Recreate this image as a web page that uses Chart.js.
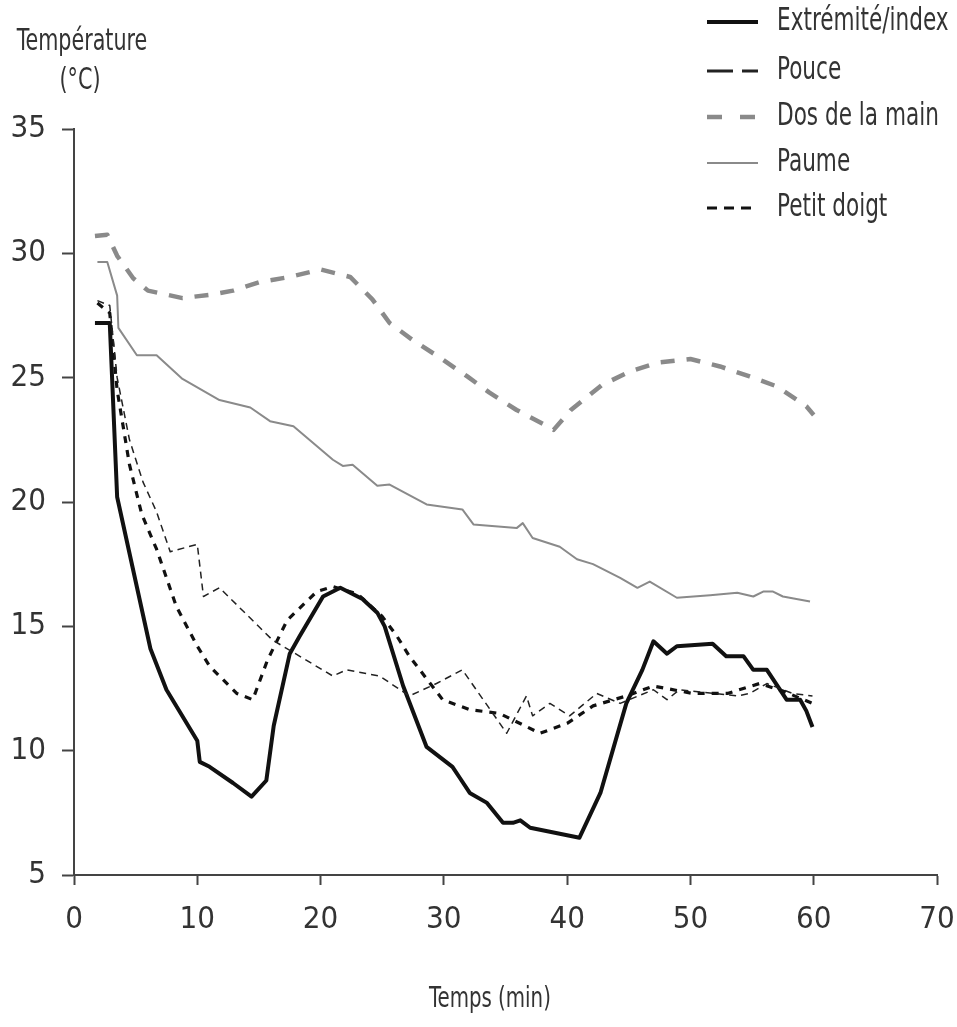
<!DOCTYPE html>
<html>
<head>
<meta charset="utf-8">
<script src="https://cdn.jsdelivr.net/npm/chart.js@4.4.0/dist/chart.umd.min.js"></script>
<style>
  html, body { margin: 0; padding: 0; background: #ffffff; }
  #wrap { width: 957px; height: 1027px; position: relative; }
</style>
</head>
<body>
<div id="wrap"><canvas id="c" width="957" height="1027"></canvas></div>
<script>
// ---- Data (time in min, temperature in °C) ----
const xTicks = [0, 10, 20, 30, 40, 50, 60, 70];
const yTicks = [5, 10, 15, 20, 25, 30, 35];
const seriesNames = ["Extrémité/index", "Pouce", "Dos de la main", "Paume", "Petit doigt"];
const xTitle = "Temps (min)";
const yTitleLines = ["Température", "(°C)"];

const extT = [1.7,2.9,3.5,6.2,7.5,10,10.2,11,12.9,14.4,15.6,16.2,17.5,18.3,20.2,21.6,23.4,24.6,25.2,26.7,28.6,30.7,31.3,32.1,33.5,34.8,35.6,36.2,37,41,42.7,44.8,46.1,47,48.1,48.9,51.8,52.9,54.3,55.1,56.2,57.8,58.9,59.4,59.9];
const extV = [27.2,27.2,20.2,14.1,12.45,10.4,9.55,9.35,8.7,8.15,8.8,11,13.9,14.6,16.2,16.55,16.1,15.55,15,12.6,10.15,9.35,8.9,8.3,7.9,7.1,7.1,7.2,6.9,6.5,8.3,11.9,13.25,14.4,13.9,14.2,14.3,13.8,13.8,13.25,13.25,12.05,12.05,11.6,10.95];

const pouT = [1.9,2.9,3.5,4.5,5.6,6.7,7.8,10,10.5,11.8,16.1,21,22.1,24.8,27.2,29.4,31.5,35.1,36.7,37.2,38.6,40.2,42.4,44.3,47,48.1,49.1,53.8,54.8,56.2,58.3,59.9];
const pouV = [28.1,27.9,25,22.5,20.8,19.6,18,18.3,16.2,16.55,14.45,13,13.25,13,12.2,12.7,13.25,10.7,12.2,11.4,11.9,11.4,12.3,11.9,12.45,12.05,12.45,12.2,12.3,12.7,12.3,12.2];

const dosT = [1.7,2.7,3.5,4.8,6,8.8,11.3,12.9,15.1,17.5,20,22.4,24.2,25.6,27.5,29.7,31.9,33.7,35.9,38.4,38.9,40.3,42.8,45.1,47.3,50,52.4,54.8,57,59.4,60];
const dosV = [30.7,30.75,29.9,29.0,28.5,28.2,28.35,28.5,28.85,29.05,29.35,29.05,28.15,27.2,26.5,25.8,25.05,24.4,23.7,23.05,22.9,23.7,24.7,25.25,25.6,25.75,25.45,25.05,24.65,23.85,23.5];

const pauT = [1.9,2.7,3.5,3.6,5.1,6.7,8.8,11.8,14.3,15.9,17.8,21,21.8,22.6,24.6,25.6,28.6,31.5,32.4,35.9,36.4,37.2,39.4,40.8,42.1,44.3,45.7,46.7,48.9,51.6,53.8,55.1,55.9,56.7,57.5,59.7];
const pauV = [29.65,29.65,28.3,27,25.9,25.9,24.95,24.1,23.8,23.25,23.05,21.7,21.45,21.5,20.65,20.7,19.9,19.7,19.1,18.95,19.15,18.55,18.2,17.7,17.5,16.95,16.55,16.8,16.15,16.25,16.35,16.2,16.4,16.4,16.2,16.0];

const petT = [1.9,2.9,3.5,4.5,5.5,6.7,8.3,10,11,13.2,14.5,15.7,17.3,19.7,21,23,25,26.2,27.2,29.9,32.1,34.5,37.8,40,42.1,44.8,47,50.2,53,55.6,57.5,59.9];
const petV = [28,27.6,24.5,21.5,19.5,18.1,15.8,14.2,13.4,12.3,12.05,13.65,15.25,16.4,16.6,16.3,15.4,14.6,13.8,12.05,11.65,11.5,10.7,11.1,11.8,12.2,12.6,12.3,12.3,12.7,12.4,11.9];

// ---- Build library structures ----
function pts(t, v) { return t.map((x, i) => ({ x: x, y: v[i] })); }

const FONT = "'DejaVu Sans Condensed', 'Liberation Sans Narrow', 'Roboto Condensed', 'Liberation Sans', sans-serif";
const TXT = '#333333';

const datasets = [
  { label: seriesNames[3], data: pts(pauT, pauV), borderColor: '#8a8a8a', borderWidth: 2, borderDash: [], legendDash: [] },
  { label: seriesNames[2], data: pts(dosT, dosV), borderColor: '#8a8a8a', borderWidth: 4.5, borderDash: [14, 12], legendDash: [15, 18] },
  { label: seriesNames[1], data: pts(pouT, pouV), borderColor: '#222222', borderWidth: 1.5, borderDash: [7, 5], legendDash: [26, 9], legendWidth: 3 },
  { label: seriesNames[4], data: pts(petT, petV), borderColor: '#111111', borderWidth: 3.2, borderDash: [7, 7], legendDash: [10, 7] },
  { label: seriesNames[0], data: pts(extT, extV), borderColor: '#111111', borderWidth: 4, borderDash: [], legendDash: [] }
];
datasets.forEach(d => { d.pointRadius = 0; d.tension = 0; d.fill = false; d.borderCapStyle = 'butt'; d.borderJoinStyle = 'round'; });

const legendOrder = seriesNames;

function tallText(ctx, txt, x, y, sy) {
  ctx.save();
  ctx.translate(x, y);
  ctx.scale(1, sy);
  ctx.fillText(txt, 0, 0);
  ctx.restore();
}

const annot = {
  id: 'annot',
  afterDraw(chart) {
    const ctx = chart.ctx;
    ctx.save();
    ctx.fillStyle = TXT;
    // axis titles
    ctx.font = "23px " + FONT;
    ctx.textAlign = 'center';
    ctx.textBaseline = 'middle';
    tallText(ctx, yTitleLines[0], 82, 42, 1.3);
    tallText(ctx, yTitleLines[1], 80, 81, 1.3);
    ctx.font = "22px " + FONT;
    tallText(ctx, xTitle, 490, 1000, 1.3);
    // legend
    const rows = [22, 71, 117, 163, 208];
    ctx.textAlign = 'left';
    ctx.font = "24px " + FONT;
    legendOrder.forEach((name, i) => {
      const ds = chart.data.datasets.find(d => d.label === name);
      const y = rows[i];
      ctx.save();
      ctx.strokeStyle = ds.borderColor;
      ctx.lineWidth = ds.legendWidth || ds.borderWidth;
      ctx.setLineDash(ds.legendDash || []);
      ctx.beginPath();
      ctx.moveTo(707, y);
      ctx.lineTo(758, y);
      ctx.stroke();
      ctx.restore();
      ctx.fillStyle = TXT;
      tallText(ctx, name, 777, y, 1.3);
    });
    ctx.restore();
  }
};

const tickFont = { family: FONT, size: 31 };

new Chart(document.getElementById('c'), {
  type: 'line',
  data: { datasets: datasets },
  options: {
    responsive: false,
    animation: false,
    layout: { padding: { top: 129, right: 20, left: 0, bottom: 0 } },
    plugins: { legend: { display: false }, tooltip: { enabled: false }, title: { display: false } },
    scales: {
      x: {
        type: 'linear', min: 0, max: 70,
        afterBuildTicks: s => { s.ticks = xTicks.map(v => ({ value: v })); },
        afterFit: s => { s.height = 152; s.paddingLeft = 0; s.paddingRight = 0; },
        ticks: { font: tickFont, color: TXT, padding: 16, maxRotation: 0 },
        grid: { drawOnChartArea: false, drawTicks: true, tickLength: 10, tickColor: '#444', tickWidth: 2 },
        border: { display: true, color: '#444', width: 2 }
      },
      y: {
        type: 'linear', min: 5, max: 35,
        afterBuildTicks: s => { s.ticks = yTicks.map(v => ({ value: v })); },
        afterFit: s => { s.width = 74; s.paddingTop = 0; s.paddingBottom = 0; },
        ticks: { font: tickFont, color: TXT, padding: 16 },
        grid: { drawOnChartArea: false, drawTicks: true, tickLength: 12, tickColor: '#444', tickWidth: 2 },
        border: { display: true, color: '#444', width: 2 }
      }
    }
  },
  plugins: [annot]
});
</script>
</body>
</html>
